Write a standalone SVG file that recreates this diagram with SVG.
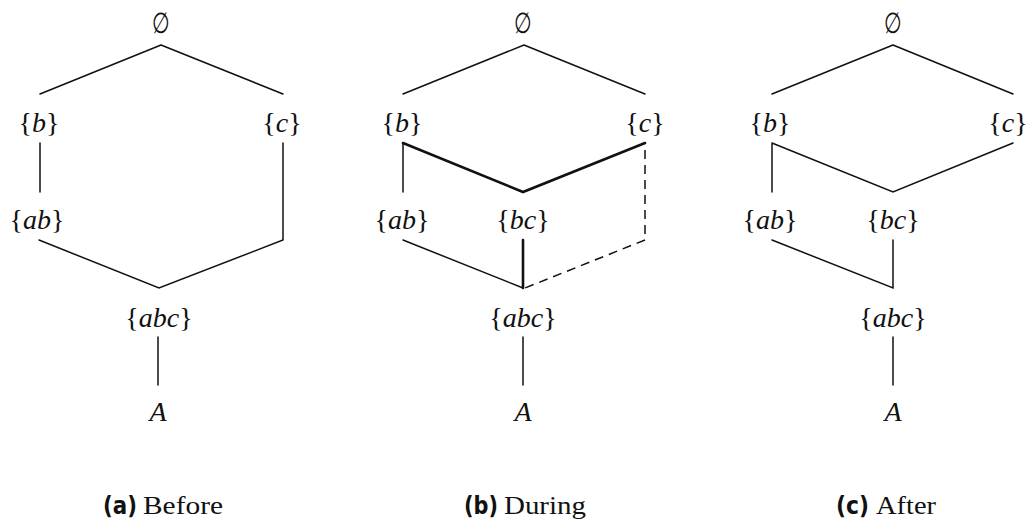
<svg xmlns="http://www.w3.org/2000/svg" width="1029" height="524" viewBox="0 0 1029 524">
<style>
.t{font-family:"Liberation Serif","DejaVu Serif",serif;font-size:28px;fill:#111;text-anchor:middle}
.i{font-style:italic}
.e{font-family:"DejaVu Serif","Liberation Serif",serif;font-size:26px;fill:#111;text-anchor:middle}
.l{stroke:#111;stroke-width:1.5;fill:none;stroke-linecap:round}
.k{stroke:#111;stroke-width:2.6;fill:none;stroke-linecap:round}
.d{stroke:#111;stroke-width:1.5;fill:none;stroke-dasharray:9,6}
.cb{font-family:"DejaVu Sans","Liberation Sans",sans-serif;font-weight:bold;font-size:24px;fill:#111}
.cs{font-family:"Liberation Serif","DejaVu Serif",serif;font-size:26px;fill:#111}
</style>
<g id="connectors">
<path class="l" d="M161,45 L40,94 M161,45 L283,94 M40,143 V192 M283,143 V240 L159,288 L39,240 M158,337 V385"/>
<path class="l" d="M524,45 L403,94 M524,45 L645,94 M403,143 V192 M403,240 L523,288 M523,337 V385"/>
<path class="k" d="M403,143 L523,192 L645,143 M523,240 V288"/>
<path class="d" d="M645,150 V240 L525,288"/>
<path class="l" d="M893,45 L772,94 M893,45 L1013,94 M772,143 V192 M772,143 L893,192 L1013,143 M772,240 L893,288 V240 M893,337 V385"/>
</g>
<g id="a_empty"><text class="e" transform="translate(161,33) scale(0.78,1.12)">∅</text></g>
<g id="a_b"><text class="t" x="39" y="132">{<tspan class="i">b</tspan>}</text></g>
<g id="a_c"><text class="t" x="282" y="132">{<tspan class="i">c</tspan>}</text></g>
<g id="a_ab"><text class="t" x="37" y="229">{<tspan class="i">ab</tspan>}</text></g>
<g id="a_abc"><text class="t" x="159" y="327">{<tspan class="i">abc</tspan>}</text></g>
<g id="a_A"><text class="t i" x="158" y="421">A</text></g>

<g id="b_empty"><text class="e" transform="translate(523,33) scale(0.78,1.12)">∅</text></g>
<g id="b_b"><text class="t" x="402" y="132">{<tspan class="i">b</tspan>}</text></g>
<g id="b_c"><text class="t" x="645" y="132">{<tspan class="i">c</tspan>}</text></g>
<g id="b_ab"><text class="t" x="402" y="229">{<tspan class="i">ab</tspan>}</text></g>
<g id="b_bc"><text class="t" x="523" y="229">{<tspan class="i">bc</tspan>}</text></g>
<g id="b_abc"><text class="t" x="523" y="327">{<tspan class="i">abc</tspan>}</text></g>
<g id="b_A"><text class="t i" x="523" y="421">A</text></g>

<g id="c_empty"><text class="e" transform="translate(893,33) scale(0.78,1.12)">∅</text></g>
<g id="c_b"><text class="t" x="770" y="132">{<tspan class="i">b</tspan>}</text></g>
<g id="c_c"><text class="t" x="1008" y="132">{<tspan class="i">c</tspan>}</text></g>
<g id="c_ab"><text class="t" x="770" y="229">{<tspan class="i">ab</tspan>}</text></g>
<g id="c_bc"><text class="t" x="893" y="229">{<tspan class="i">bc</tspan>}</text></g>
<g id="c_abc"><text class="t" x="893" y="327">{<tspan class="i">abc</tspan>}</text></g>
<g id="c_A"><text class="t i" x="893" y="421">A</text></g>

<g id="captions">
<text class="cb" x="103" y="514" textLength="34" lengthAdjust="spacingAndGlyphs">(a)</text>
<text class="cs" x="143" y="514" textLength="80" lengthAdjust="spacingAndGlyphs">Before</text>
<text class="cb" x="464" y="514" textLength="34" lengthAdjust="spacingAndGlyphs">(b)</text>
<text class="cs" x="504" y="514" textLength="82" lengthAdjust="spacingAndGlyphs">During</text>
<text class="cb" x="836" y="514" textLength="33" lengthAdjust="spacingAndGlyphs">(c)</text>
<text class="cs" x="876" y="514" textLength="60" lengthAdjust="spacingAndGlyphs">After</text>
</g>
</svg>
